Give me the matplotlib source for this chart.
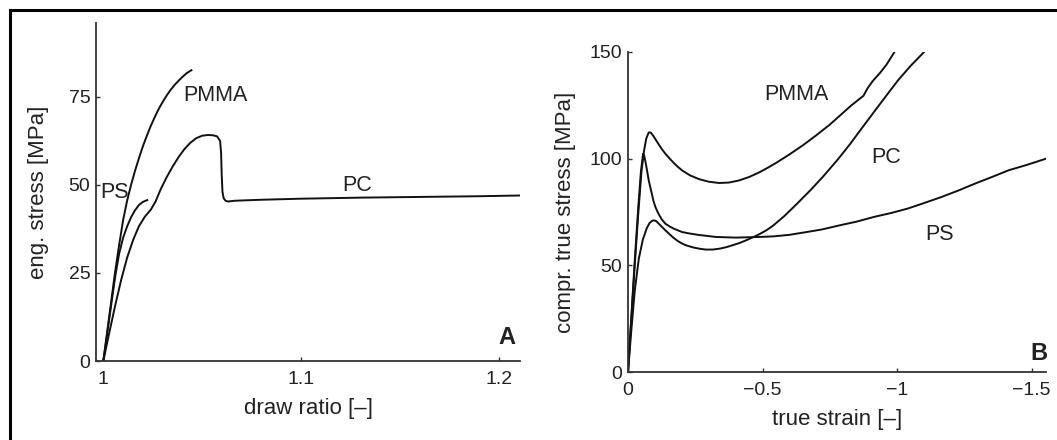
import matplotlib
matplotlib.use("Agg")
import matplotlib.pyplot as plt
from matplotlib.lines import Line2D

plt.rcParams['font.family'] = ['Liberation Sans', 'DejaVu Sans']

# ---------------- Panel A: tensile tests (draw ratio vs eng. stress) ----------------
pmma_a_x = [1.0, 1.002, 1.004, 1.006, 1.008, 1.010, 1.012, 1.014, 1.016, 1.018, 1.020, 1.022,
            1.024, 1.026, 1.028, 1.030, 1.032, 1.034, 1.036, 1.038, 1.040, 1.042, 1.0445]
pmma_a_y = [0, 8.5, 17, 25.5, 33, 40, 45.5, 50, 54, 57.6, 61, 64,
            66.8, 69.3, 71.6, 73.6, 75.4, 77.0, 78.4, 79.6, 80.7, 81.7, 82.6]

ps_a_x = [1.0, 1.002, 1.004, 1.006, 1.008, 1.010, 1.012, 1.014, 1.016, 1.018, 1.020, 1.0222]
ps_a_y = [0, 8, 16, 24, 30.5, 35, 38.2, 40.8, 42.8, 44.3, 45.2, 45.7]

pc_a_x = [1.0, 1.003, 1.006, 1.009, 1.012, 1.015, 1.018, 1.021, 1.024, 1.0264, 1.029, 1.032,
          1.035, 1.038, 1.041, 1.044, 1.047, 1.050, 1.053, 1.0555, 1.0575, 1.059, 1.0595,
          1.0598, 1.0602, 1.0608, 1.0618, 1.063, 1.066, 1.07, 1.08, 1.10, 1.13, 1.16, 1.19, 1.21]
pc_a_y = [0, 8, 15.8, 23, 29.3, 34.3, 38.3, 41.0, 43.0, 45.3, 48.8, 52.2,
          55.2, 57.9, 60.2, 62.0, 63.3, 64.0, 64.2, 64.1, 63.8, 62.5, 59,
          53, 48, 46.2, 45.5, 45.3, 45.5, 45.6, 45.8, 46.1, 46.4, 46.6, 46.8, 47.0]

a_xticks = [1.0, 1.1, 1.2]
a_xticklabels = ['1', '1.1', '1.2']
a_yticks = [0, 25, 50, 75]

# ---------------- Panel B: compression tests (true strain vs true stress) ----------------
pmma_b_x = [0, -0.012, -0.025, -0.038, -0.05, -0.06, -0.068, -0.077, -0.085, -0.095, -0.11,
            -0.125, -0.139, -0.155, -0.17, -0.185, -0.201, -0.23, -0.264, -0.30, -0.338,
            -0.375, -0.413, -0.45, -0.488, -0.52, -0.55, -0.60, -0.65, -0.70, -0.75, -0.79,
            -0.83, -0.86, -0.875, -0.89, -0.91, -0.935, -0.96, -0.99]
pmma_b_y = [0, 24, 50, 74, 94, 104, 109.5, 112.3, 112.2, 110.5, 107.5,
            104.6, 102.3, 100, 98, 96.2, 94.5, 92.2, 90.4, 89.2, 88.6,
            88.8, 89.8, 91.4, 93.6, 95.8, 98, 102, 106.3, 111, 116, 120.5,
            125, 128, 129.5, 133, 136.5, 140, 144, 150]

ps_b_x = [0, -0.012, -0.025, -0.038, -0.048, -0.056, -0.06, -0.065, -0.07, -0.077, -0.085,
          -0.095, -0.102, -0.112, -0.125, -0.139, -0.155, -0.17, -0.201, -0.23, -0.26, -0.326,
          -0.40, -0.488, -0.543, -0.60, -0.663, -0.72, -0.788, -0.85, -0.914, -0.98, -1.039,
          -1.10, -1.164, -1.23, -1.289, -1.35, -1.415, -1.48, -1.553]
ps_b_y = [0, 25, 52, 77, 94, 102.3, 101.5, 98.5, 95, 89.8, 85.5,
          80, 77.3, 74.5, 71.6, 69.5, 68.2, 67.2, 65.6, 64.9, 64.3, 63.3,
          63.0, 63.3, 63.6, 64.3, 65.6, 66.8, 68.8, 70.5, 72.7, 74.6, 76.6,
          79.2, 82.0, 85.2, 88.3, 91.3, 94.6, 97.0, 100.0]

pc_b_x = [0, -0.012, -0.025, -0.04, -0.055, -0.07, -0.08, -0.09, -0.096, -0.105, -0.12,
          -0.139, -0.155, -0.17, -0.185, -0.201, -0.22, -0.245, -0.27, -0.289, -0.315, -0.34,
          -0.365, -0.388, -0.415, -0.44, -0.465, -0.488, -0.515, -0.538, -0.58, -0.625, -0.68,
          -0.726, -0.78, -0.826, -0.87, -0.914, -0.96, -1.005, -1.05, -1.10]
pc_b_y = [0, 19, 38, 53, 62, 67.5, 69.8, 70.9, 71.1, 70.7, 68.8,
          66.4, 64.5, 62.8, 61.4, 60.2, 59.2, 58.3, 57.7, 57.4, 57.4, 57.8,
          58.5, 59.4, 60.5, 61.8, 63.2, 64.6, 66.5, 68.5, 73, 78.5, 85.5,
          91.8, 99.7, 107, 114.5, 121.9, 129.6, 137, 143.5, 150]

b_xticks = [0, -0.5, -1.0, -1.5]
b_xticklabels = ['0', '\u22120.5', '\u22121', '\u22121.5']
b_yticks = [0, 50, 100, 150]

W, H = 1057, 440
fig = plt.figure(figsize=(W / 100, H / 100), dpi=100)

line_col = '#111111'
spine_col = '#333333'
text_col = '#222222'
lw = 1.4


def style(ax):
    for s in ['top', 'right']:
        ax.spines[s].set_visible(False)
    for s in ['left', 'bottom']:
        ax.spines[s].set_color(spine_col)
        ax.spines[s].set_linewidth(1.3)
    ax.tick_params(direction='in', length=3, width=1.0, colors=spine_col,
                   labelsize=14, labelcolor=text_col)
    ax.tick_params(axis='y', pad=4)
    ax.tick_params(axis='x', pad=7.5)
    ax.set_facecolor('none')


# Panel A
axA = fig.add_axes([96 / W, 1 - 361 / H, (520 - 96) / W, (361 - 23) / H])
style(axA)
axA.plot(pmma_a_x, pmma_a_y, color=line_col, lw=lw)
axA.plot(ps_a_x, ps_a_y, color=line_col, lw=lw)
axA.plot(pc_a_x, pc_a_y, color=line_col, lw=lw)
axA.set_xlim(0.9963, 1.2105)
axA.set_ylim(0, 96)
axA.set_xticks(a_xticks)
axA.set_xticklabels(a_xticklabels)
axA.set_yticks(a_yticks)
axA.set_xlabel('draw ratio [\u2013]', fontsize=16, color=text_col, labelpad=7)
axA.set_ylabel('eng. stress [MPa]', fontsize=16, color=text_col, labelpad=14)
axA.text(1.0564, 75.4, 'PMMA', fontsize=15.5, color=text_col, ha='center', va='center')
axA.text(1.0057, 47.8, 'PS', fontsize=15.5, color=text_col, ha='center', va='center')
axA.text(1.1282, 49.9, 'PC', fontsize=15.5, color=text_col, ha='center', va='center')
axA.text(1.2039, 6.8, 'A', fontsize=17, fontweight='bold', color=text_col, ha='center', va='center')

# Panel B
axB = fig.add_axes([628 / W, 1 - 372 / H, (1046 - 628) / W, (372 - 52) / H])
style(axB)
axB.plot(pmma_b_x, pmma_b_y, color=line_col, lw=lw)
axB.plot(ps_b_x, ps_b_y, color=line_col, lw=lw)
axB.plot(pc_b_x, pc_b_y, color=line_col, lw=lw)
axB.set_xlim(0, -1.553)
axB.set_ylim(0, 150)
axB.set_xticks(b_xticks)
axB.set_xticklabels(b_xticklabels)
axB.set_yticks(b_yticks)
axB.set_xlabel('true strain [\u2013]', fontsize=16, color=text_col, labelpad=7)
axB.set_ylabel('compr. true stress [MPa]', fontsize=16, color=text_col, labelpad=10)
axB.text(-0.625, 130, 'PMMA', fontsize=15.5, color=text_col, ha='center', va='center')
axB.text(-0.958, 100.4, 'PC', fontsize=15.5, color=text_col, ha='center', va='center')
axB.text(-1.156, 64.3, 'PS', fontsize=15.5, color=text_col, ha='center', va='center')
axB.text(-1.525, 8.8, 'B', fontsize=17, fontweight='bold', color=text_col, ha='center', va='center')

# figure frame (left and top edges only, as in the cropped original)
fig.add_artist(Line2D([10 / W, 10 / W], [0, 1 - 10 / H], color='black', lw=2.2,
                      transform=fig.transFigure, solid_capstyle='projecting'))
fig.add_artist(Line2D([10 / W, 1], [1 - 10 / H, 1 - 10 / H], color='black', lw=2.2,
                      transform=fig.transFigure, solid_capstyle='projecting'))

fig.savefig('out.png', dpi=100, facecolor='white')
